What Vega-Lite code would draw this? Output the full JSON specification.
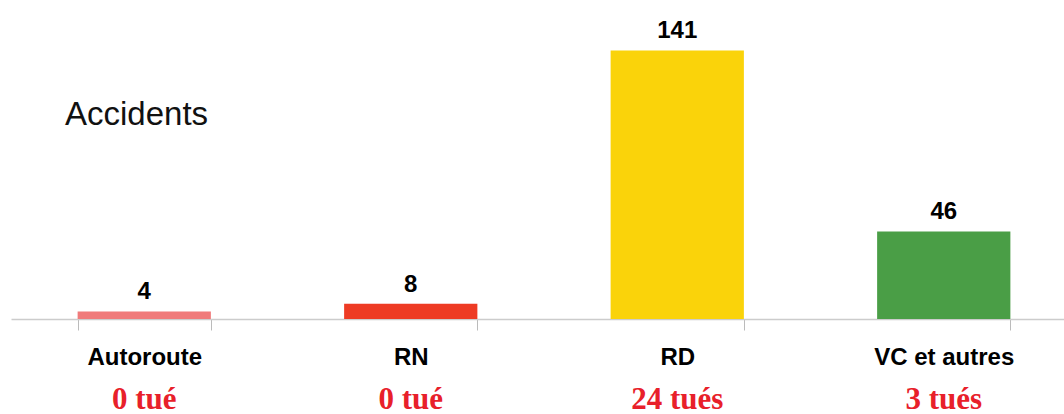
{
  "$schema": "https://vega.github.io/schema/vega-lite/v6.json",
  "width": 1066,
  "height": 319,
  "autosize": {"type": "none"},
  "padding": {"left": 11, "top": 0, "right": 0, "bottom": 95},
  "background": "white",
  "title": {
    "text": "Accidents",
    "anchor": "start",
    "frame": "group",
    "orient": "top",
    "baseline": "middle",
    "dx": 54,
    "dy": 148,
    "offset": 0,
    "font": "Liberation Sans",
    "fontSize": 33,
    "fontWeight": "normal",
    "color": "#111111"
  },
  "config": {"view": {"stroke": null}},
  "data": {
    "values": [
      {"voie": "Autoroute", "accidents": 4, "tues": "0 tué"},
      {"voie": "RN", "accidents": 8, "tues": "0 tué"},
      {"voie": "RD", "accidents": 141, "tues": "24 tués"},
      {"voie": "VC et autres", "accidents": 46, "tues": "3 tués"}
    ]
  },
  "encoding": {
    "x": {
      "field": "voie",
      "type": "nominal",
      "sort": null,
      "scale": {"paddingInner": 0.5, "paddingOuter": 0.25},
      "axis": {
        "title": null,
        "tickBand": "extent",
        "labelAngle": 0,
        "labelFont": "Liberation Sans",
        "labelFontSize": 24,
        "labelFontWeight": "bold",
        "labelColor": "#000000",
        "labelBaseline": "alphabetic",
        "labelPadding": 34,
        "tickSize": 11,
        "tickColor": "#BBBBBB",
        "domainColor": "#CCCCCC",
        "domainWidth": 1.5,
        "grid": false
      }
    }
  },
  "layer": [
    {
      "mark": {"type": "bar"},
      "encoding": {
        "y": {
          "field": "accidents",
          "type": "quantitative",
          "scale": {"domain": [0, 167.5], "nice": false},
          "axis": null
        },
        "color": {
          "field": "voie",
          "type": "nominal",
          "sort": null,
          "scale": {
            "domain": ["Autoroute", "RN", "RD", "VC et autres"],
            "range": ["#F07B7B", "#EE3B24", "#FAD30A", "#4A9E46"]
          },
          "legend": null
        }
      }
    },
    {
      "mark": {
        "type": "text",
        "baseline": "alphabetic",
        "dy": -12,
        "font": "Liberation Sans",
        "fontSize": 24,
        "fontWeight": "bold",
        "color": "#000000"
      },
      "encoding": {
        "y": {"field": "accidents", "type": "quantitative"},
        "text": {"field": "accidents", "type": "quantitative"}
      }
    },
    {
      "mark": {
        "type": "text",
        "baseline": "alphabetic",
        "dy": 90,
        "font": "Liberation Serif",
        "fontSize": 31,
        "fontWeight": "bold",
        "color": "#E8202A"
      },
      "encoding": {
        "y": {"datum": 0, "type": "quantitative"},
        "text": {"field": "tues", "type": "nominal"}
      }
    }
  ]
}
